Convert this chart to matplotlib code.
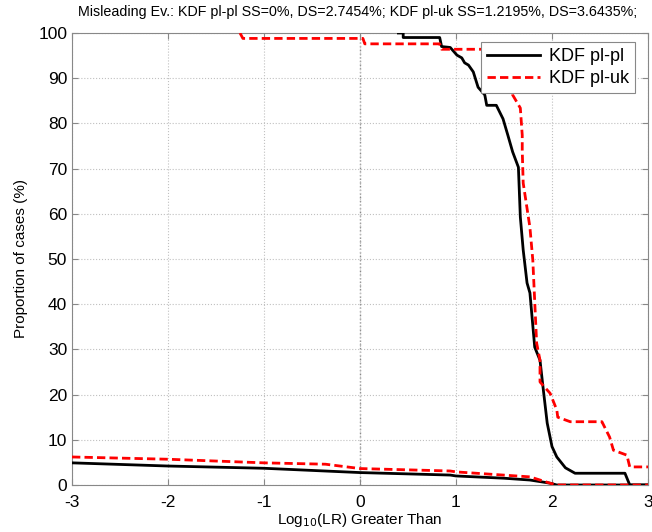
import matplotlib
matplotlib.use("Agg")
import matplotlib.pyplot as plt

plt.rcParams['font.family'] = ['Liberation Sans', 'DejaVu Sans']

title_text = "Misleading Ev.: KDF pl-pl SS=0%, DS=2.7454%; KDF pl-uk SS=1.2195%, DS=3.6435%;"
x_label = "Log$_{10}$(LR) Greater Than"
y_label = "Proportion of cases (%)"
legend_labels = ["KDF pl-pl", "KDF pl-uk"]
x_ticks = [-3, -2, -1, 0, 1, 2, 3]
y_ticks = [0, 10, 20, 30, 40, 50, 60, 70, 80, 90, 100]

# KDF pl-pl, same-source
plpl_ss_x = [0.40, 0.45, 0.45, 0.83, 0.85, 0.94, 1.01, 1.06, 1.09, 1.13, 1.18, 1.23, 1.30, 1.32,
             1.42, 1.49, 1.54, 1.59, 1.65, 1.67, 1.70, 1.74, 1.77, 1.82, 1.875, 1.91, 1.95, 2.00,
             2.05, 2.14, 2.24, 2.76, 2.81, 3.0]
plpl_ss_y = [100, 100, 99, 99, 97, 96.8, 95.1, 94.5, 93.4, 92.9, 91.4, 88, 86.3, 84,
             84, 81, 77.4, 73.7, 70.3, 59.3, 52, 44.7, 42.5, 30.5, 27.6, 21, 13.7, 8.5,
             6.2, 3.8, 2.6, 2.6, 0, 0]
# KDF pl-pl, different-source
plpl_ds_x = [-3.0, -2.0, -1.0, 0.0, 0.94, 1.0, 1.5, 1.77, 1.98, 2.05, 3.0]
plpl_ds_y = [4.9, 4.2, 3.7, 2.75, 2.2, 2.0, 1.5, 1.1, 0.4, 0, 0]

# KDF pl-uk, same-source
pluk_ss_x = [-1.25, -1.22, 0.03, 0.05, 0.83, 0.85, 1.55, 1.57, 1.59, 1.67, 1.69, 1.69, 1.70,
             1.77, 1.80, 1.84, 1.875, 1.875, 1.98, 2.05, 2.06, 2.19, 2.52, 2.60, 2.64, 2.78,
             2.81, 3.0]
pluk_ss_y = [100, 98.8, 98.8, 97.6, 97.6, 96.4, 96.4, 90, 86.3, 83.4, 77.4, 74, 66.8,
             57, 49.8, 31.4, 27.6, 22.8, 20.3, 16.6, 15, 14, 14, 10.6, 7.7, 6.6,
             4.0, 4.0]
# KDF pl-uk, different-source
pluk_ds_x = [-3.0, -2.0, -1.0, -0.36, 0.0, 0.94, 1.0, 1.77, 1.875, 1.98, 2.05, 3.0]
pluk_ds_y = [6.2, 5.7, 4.9, 4.6, 3.64, 3.1, 2.9, 1.8, 1.1, 0.4, 0, 0]

fig = plt.figure(figsize=(6.52, 5.32), dpi=100)
ax = fig.add_axes([72/652, 1 - 485/532, 576/652, 452/532])

ax.grid(True, color='#c0c0c0', linestyle=':', linewidth=0.8)
ax.axvline(0, color='#888888', linestyle=':', linewidth=1.0, zorder=1)

l1, = ax.plot(plpl_ss_x, plpl_ss_y, color='black', linewidth=2, zorder=3)
ax.plot(plpl_ds_x, plpl_ds_y, color='black', linewidth=2, zorder=3)
l2, = ax.plot(pluk_ss_x, pluk_ss_y, color='red', linewidth=2, linestyle=(0, (3, 1.5)), zorder=4)
ax.plot(pluk_ds_x, pluk_ds_y, color='red', linewidth=2, linestyle=(0, (3, 1.5)), zorder=4)

ax.set_xlim(-3, 3)
ax.set_ylim(0, 100)
ax.set_xticks(x_ticks)
ax.set_yticks(y_ticks)
ax.set_xticklabels([str(t) for t in x_ticks])
ax.tick_params(direction='in', length=4, top=True, right=True, labelsize=12.5, color='#888888')
ax.tick_params(axis='x', pad=7)
for s in ax.spines.values():
    s.set_color('#888888')
    s.set_linewidth(0.8)

ax.set_xlabel(x_label, fontsize=11, labelpad=1)
ax.set_ylabel(y_label, fontsize=11, labelpad=7)
fig.text(358/652, 1 - 12/532, title_text, ha='center', va='center', fontsize=10.3)

leg = ax.legend([l1, l2], legend_labels, loc='upper right', fontsize=13,
                fancybox=False, framealpha=1, edgecolor='#888888',
                handlelength=2.9, borderpad=0.35, labelspacing=0.25, handletextpad=0.5,
                borderaxespad=0, bbox_to_anchor=(0.978, 0.98))
leg.get_frame().set_linewidth(0.8)

fig.savefig("out.png", dpi=100)
